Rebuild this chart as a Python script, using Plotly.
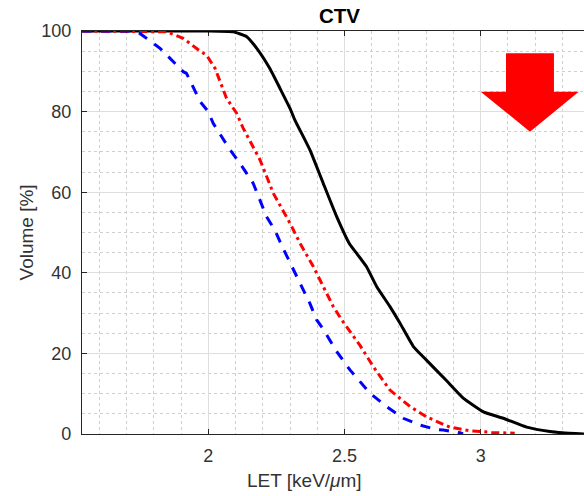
import plotly.graph_objects as go

# LET-volume histograms for the CTV (three plans)
let_black = [1.537, 2.00, 2.092, 2.141, 2.178, 2.226, 2.263, 2.30, 2.318, 2.373,
             2.422, 2.471, 2.52, 2.545, 2.581, 2.618, 2.667, 2.704, 2.753, 2.80, 2.875,
             2.936, 3.01, 3.083, 3.169, 3.254, 3.30, 3.379]
vol_black = [100, 100, 99.8, 98.6, 95.7, 90.7, 85.8, 80.8, 77.9, 70.5,
             62.2, 54.0, 47.0, 44.8, 41.5, 36.6, 31.6, 27.5, 21.7, 18.4, 13.2,
             8.9, 5.5, 3.9, 1.7, 0.6, 0.3, 0.0]

let_red = [1.537, 1.847, 1.908, 1.97, 1.994, 2.025, 2.067, 2.104, 2.128, 2.19, 2.239,
           2.30, 2.337, 2.386, 2.422, 2.459, 2.49, 2.508, 2.557, 2.606, 2.667, 2.741,
           2.80, 2.863, 2.887, 2.961, 3.04, 3.125]
vol_red = [100, 99.8, 98.2, 95.0, 94.0, 90.7, 83.3, 79.6, 75.9, 68.0, 59.7,
           52.3, 47.3, 41.5, 36.6, 31.6, 28.3, 26.6, 22.0, 16.7, 10.9, 6.8,
           4.3, 2.4, 1.7, 0.8, 0.4, 0.2]

let_blue = [1.537, 1.725, 1.749, 1.823, 1.908, 1.92, 1.970, 2.0, 2.018, 2.08, 2.116,
            2.165, 2.214, 2.245, 2.275, 2.325, 2.373, 2.398, 2.422, 2.471, 2.52, 2.594,
            2.655, 2.716, 2.777, 2.838, 2.863, 2.924, 2.935]
vol_blue = [100, 100, 99.4, 95.7, 89.9, 89.5, 82.5, 80.0, 77.1, 70.5, 67.2,
            62.2, 53.9, 50.5, 46.0, 39.0, 32.4, 28.3, 26.0, 20.5, 15.9, 10.1,
            6.8, 3.9, 2.2, 1.1, 1.0, 0.3, 0.0]

x_ticks = [2, 2.5, 3]
x_tick_text = ["2", "2.5", "3"]
y_ticks = [0, 20, 40, 60, 80, 100]
y_tick_text = ["0", "20", "40", "60", "80", "100"]

X_RANGE = [1.5364, 3.3793]
Y_RANGE = [0, 100]

AXIS_COLOR = "#262626"
FONT = "Liberation Sans, Arial, sans-serif"

fig = go.Figure()
fig.add_trace(go.Scatter(x=let_black, y=vol_black, mode="lines",
                         line=dict(color="black", width=3, shape="spline", smoothing=0.4),
                         showlegend=False))
fig.add_trace(go.Scatter(x=let_red, y=vol_red, mode="lines",
                         line=dict(color="#ff0000", width=3, dash="8px,4px,3px,4px"),
                         showlegend=False))
fig.add_trace(go.Scatter(x=let_blue, y=vol_blue, mode="lines",
                         line=dict(color="#0000ff", width=3, dash="10px,9px"),
                         showlegend=False))

# Red "decrease" arrow drawn in data coordinates
arrow_path = ("M 3.093,94.47 L 3.269,94.47 L 3.269,84.94 L 3.360,84.94 "
              "L 3.181,75.01 L 3.000,84.94 L 3.093,84.94 Z")
fig.add_shape(type="path", path=arrow_path, xref="x", yref="y",
              fillcolor="#ff0000", line=dict(width=0), layer="above")

common_axis = dict(
    showline=True, linecolor=AXIS_COLOR, linewidth=1.2,
    ticks="inside", ticklen=5, tickcolor=AXIS_COLOR, tickwidth=1,
    showgrid=True, gridcolor="#dedede", gridwidth=1,
    zeroline=False, layer="below traces",
    tickfont=dict(family=FONT, size=18, color="#333333"),
)

fig.update_xaxes(range=X_RANGE, tickvals=x_ticks, ticktext=x_tick_text,
                 mirror="ticks", ticklabelstandoff=5,
                 minor=dict(dtick=0.1, tick0=0, showgrid=True, griddash="dot",
                            gridcolor="#cfcfcf", gridwidth=1, ticks=""),
                 **common_axis)
fig.update_yaxes(range=Y_RANGE, tickvals=y_ticks, ticktext=y_tick_text,
                 mirror=False, ticklabelstandoff=6,
                 minor=dict(dtick=5, tick0=0, showgrid=True, griddash="dot",
                            gridcolor="#cfcfcf", gridwidth=1, ticks=""),
                 **common_axis)

fig.add_annotation(text="<b>CTV</b>", xref="paper", yref="paper", x=0.512, y=1.0397,
                   xanchor="center", yanchor="middle", showarrow=False,
                   font=dict(family=FONT, size=20.5, color="black"))
fig.add_annotation(text="LET [keV/<i>μ</i>m]", xref="paper", yref="paper",
                   x=0.444, y=-0.1166, xanchor="center", yanchor="middle",
                   showarrow=False, font=dict(family=FONT, size=19, color="#333333"))
fig.add_annotation(text="Volume [%]", xref="paper", yref="paper", textangle=-90,
                   x=-0.1096, y=0.5, xanchor="center", yanchor="middle",
                   showarrow=False, font=dict(family=FONT, size=19, color="#333333"))

fig.update_layout(
    width=584, height=496, autosize=False,
    margin=dict(l=82, r=0, t=31, b=62, pad=0),
    paper_bgcolor="white", plot_bgcolor="white",
    showlegend=False,
)

fig.write_html("out.html")
